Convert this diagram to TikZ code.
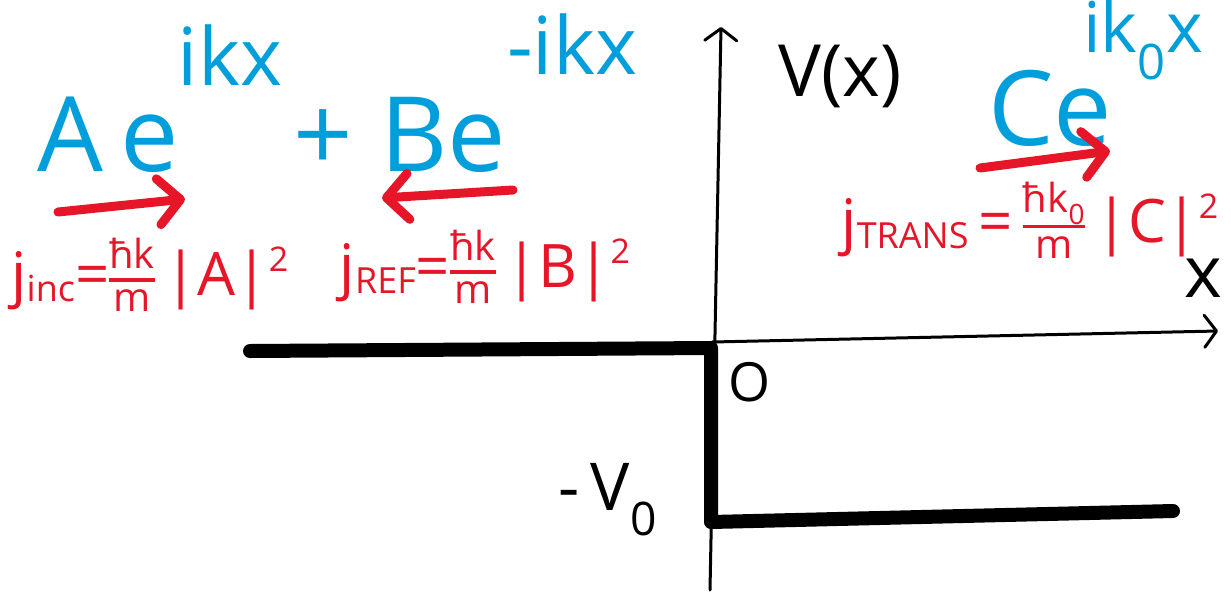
\documentclass[tikz,border=0pt]{standalone}
\usepackage{fontspec}
\setmainfont{Open Sans}
\usetikzlibrary{arrows.meta}
\definecolor{hblue}{RGB}{0,158,219}
\definecolor{hred}{RGB}{230,22,40}
\newcommand{\hfr}[2]{\raisebox{-16pt}{\fontsize{40}{40}\selectfont\setlength{\arrayrulewidth}{3.5pt}\setlength{\tabcolsep}{0pt}\renewcommand{\arraystretch}{0.8}\begin{tabular}[b]{c}#1\\\hline\rule{0pt}{30pt}#2\end{tabular}}}
\newcommand{\hsub}[1]{\raisebox{-6pt}{\fontsize{36}{36}\selectfont #1}}
\newcommand{\hsup}[1]{\raisebox{24pt}{\fontsize{34}{34}\selectfont #1}}
\begin{document}
\begin{tikzpicture}[x=1pt,y=-1pt,
  bigblue/.style={text=hblue, font=\fontsize{104}{104}\selectfont, inner sep=0pt},
  supblue/.style={text=hblue, font=\fontsize{80}{80}\selectfont, inner sep=0pt},
  redtxt/.style={text=hred, font=\fontsize{60}{60}\selectfont, inner sep=0pt},
  blacktxt/.style={text=black, font=\fontsize{72}{72}\selectfont, inner sep=0pt},
  flow/.style={draw=hred, line width=9pt, line cap=round, -{Straight Barb[round,length=22pt,width=46pt]}},
  axis/.style={draw=black, line width=3pt, line cap=round, -{Straight Barb[round,length=12pt,width=32pt]}},
  pot/.style={draw=black, line width=14pt, line join=round, line cap=round}]
\useasboundingbox (0,0) rectangle (1231,598);
% axes
\coordinate (vb) at (710,590);
\coordinate (vt) at (721,27);
\coordinate (hl) at (712,342);
\coordinate (hr) at (1218,331);
\draw[axis] (vb) -- (vt);
\draw[axis] (hl) -- (hr);
% potential
\coordinate (p1) at (250,351);
\coordinate (p2) at (711,348);
\coordinate (p3) at (711,522);
\coordinate (p4) at (1173,511);
\draw[pot] (p1) -- (p2) -- (p3) -- (p4);
% axis labels
\node[blacktxt] (Vx) at (840,76) {V(x)};
\node[blacktxt] (xl) at (1203,278) {x};
\node[blacktxt, font=\fontsize{54}{54}\selectfont] (O) at (750,382) {O};
\node[blacktxt, font=\fontsize{66}{66}\selectfont] (V0) at (608,500) {-\,V\textsubscript{0}};
% wave functions
\node[bigblue] (Ae) at (108,135) {A\,e};
\node[supblue] (s1) at (230,55) {ikx};
\node[bigblue] (Be) at (400,135) {+ Be};
\node[supblue] (s2) at (572,44) {-ikx};
\node[bigblue] (Ce) at (1050,108) {Ce};
\node[supblue, font=\fontsize{70}{70}\selectfont] (s3) at (1143,40) {ik\textsubscript{0}x};
% flow arrows
\coordinate (a1s) at (58,212); \coordinate (a1e) at (185,199);
\coordinate (a2s) at (513,190); \coordinate (a2e) at (382,198);
\coordinate (a3s) at (980,168); \coordinate (a3e) at (1110,151);
\draw[flow] (a1s) -- (a1e);
\draw[flow] (a2s) -- (a2e);
\draw[flow] (a3s) -- (a3e);
% currents
\node[redtxt] (ji) at (150,280) {j\hsub{inc}=\hfr{ħk}{m}\,|A|\hsup{2}};
\node[redtxt] (jr) at (485,272) {j\hsub{REF}=\hfr{ħk}{m}\,|B|\hsup{2}};
\node[redtxt] (jt) at (1030,225) {j\hsub{TRANS}\,=\,\hfr{ħk\textsubscript{0}}{m}\,|C|\hsup{2}};
\end{tikzpicture}
\end{document}
